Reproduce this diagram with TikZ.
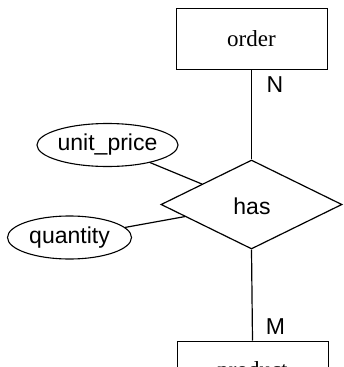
\documentclass[tikz,border=0pt]{standalone}
\usepackage{fontspec}
\setmainfont{Liberation Serif}
\newfontfamily\labelsans{Liberation Sans}
\usetikzlibrary{shapes.geometric}

\tikzset{
  entity/.style={draw, rectangle, line width=1pt, minimum width=151pt,
    minimum height=61pt, inner sep=0pt, font=\fontsize{23}{27}\selectfont},
  relation/.style={draw, diamond, line width=1.2pt, minimum width=181pt,
    minimum height=89pt, inner sep=0pt},
  attrib/.style={draw, ellipse, line width=1.1pt, minimum height=43pt,
    inner sep=0pt, font=\labelsans\fontsize{23}{27}\selectfont},
  link/.style={line width=1.2pt},
  card/.style={font=\labelsans\fontsize{23}{27}\selectfont, inner sep=0pt}
}

\begin{document}
\begin{tikzpicture}[x=1pt, y=-1pt]
  \useasboundingbox (0,0) rectangle (343,367);
  \clip (0,0) rectangle (343,367);

  % entities
  \node[entity] (order) at (251.5,38.5) {order};
  \node[entity] (product) at (252.5,371.5) {product};

  % relationship
  \node[relation] (has) at (251.5,204.5) {};
  \node[font=\labelsans\fontsize{23}{27}\selectfont, inner sep=0pt] (haslbl) at (252,206) {has};

  % attributes
  \node[attrib, minimum width=141pt] (up) at (107.5,145) {unit\_price};
  \node[attrib, minimum width=124pt] (qty) at (69.5,237.5) {quantity};

  % connectors
  \draw[link] (order.south) -- (has.north);
  \draw[link] (has.south) -- (product.north);
  \draw[link] (up) -- (has);
  \draw[link] (qty) -- (has);

  % cardinalities
  \node[card] (n) at (275,84.5) {N};
  \node[card] (m) at (275.5,327) {M};
\end{tikzpicture}
\end{document}
